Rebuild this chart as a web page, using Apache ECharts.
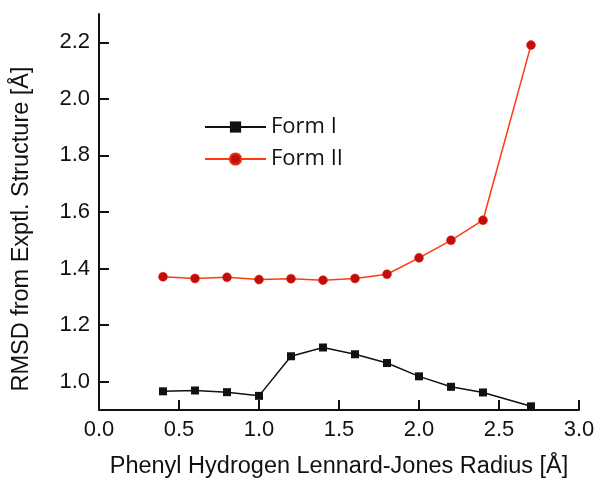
<!DOCTYPE html>
<html>
<head>
<meta charset="utf-8">
<script src="https://cdn.jsdelivr.net/npm/echarts@6/dist/echarts.min.js"></script>
<style>
  html, body { margin: 0; padding: 0; background: #fff; }
  #chart { width: 600px; height: 484px; }
</style>
</head>
<body>
<div id="chart"></div>
<script>
// radius values (Å)
const radius = [0.4, 0.6, 0.8, 1.0, 1.2, 1.4, 1.6, 1.8, 2.0, 2.2, 2.4, 2.7];
// RMSD
const formI  = [0.966, 0.969, 0.963, 0.950, 1.090, 1.121, 1.097, 1.066, 1.019, 0.982, 0.962, 0.913];
const formII = [1.371, 1.365, 1.369, 1.361, 1.364, 1.359, 1.365, 1.380, 1.438, 1.500, 1.571, 2.190];
const yTicks = [1.0, 1.2, 1.4, 1.6, 1.8, 2.0, 2.2];

const font = 'Liberation Sans, Arial, sans-serif';
const chart = echarts.init(document.getElementById('chart'));

const pairs = (ys) => radius.map((x, i) => [x, ys[i]]);

chart.setOption({
  animation: false,
  backgroundColor: '#fff',
  grid: { left: 99, right: 21, top: 14, bottom: 72 },
  legend: {
    left: 204,
    top: 116,
    padding: 0,
    orient: 'vertical',
    itemWidth: 61,
    itemHeight: 14,
    itemGap: 10,
    textStyle: { fontFamily: 'Open Sans, sans-serif', fontSize: 22, color: '#111' },
    data: ['Form I', 'Form II']
  },
  xAxis: {
    type: 'value',
    min: 0,
    max: 3,
    interval: 0.5,
    name: 'Phenyl Hydrogen Lennard-Jones Radius [Å]',
    nameLocation: 'middle',
    nameGap: 45,
    nameTextStyle: { fontFamily: font, fontSize: 23.5, color: '#111' },
    splitLine: { show: false },
    axisLine: { show: true, lineStyle: { color: '#111', width: 2 } },
    axisTick: { show: true, inside: true, length: 10, lineStyle: { color: '#111', width: 2 } },
    axisLabel: {
      fontFamily: font, fontSize: 22, color: '#111', margin: 9,
      formatter: (v) => v.toFixed(1)
    }
  },
  yAxis: {
    type: 'value',
    min: 0.9,
    max: 2.3,
    name: 'RMSD from Exptl. Structure [Å]',
    nameLocation: 'middle',
    nameGap: 65,
    nameTextStyle: { fontFamily: font, fontSize: 23.5, color: '#111', padding: [0, 34, 0, 0] },
    splitLine: { show: false },
    axisLine: { show: true, lineStyle: { color: '#111', width: 2 } },
    axisTick: { show: true, inside: true, length: 10, lineStyle: { color: '#111', width: 2 }, customValues: yTicks },
    axisLabel: {
      fontFamily: font, fontSize: 22, color: '#111', margin: 9,
      customValues: yTicks,
      formatter: (v) => v.toFixed(1)
    }
  },
  series: [
    {
      name: 'Form I',
      type: 'line',
      data: pairs(formI),
      symbol: 'rect',
      symbolSize: 8,
      lineStyle: { color: '#111', width: 1.5 },
      itemStyle: { color: '#111' }
    },
    {
      name: 'Form II',
      type: 'line',
      data: pairs(formII),
      symbol: 'circle',
      symbolSize: 9,
      lineStyle: { color: '#ff3a10', width: 1.5 },
      itemStyle: { color: '#c20d0d', borderColor: '#e8300f', borderWidth: 0.5 }
    }
  ]
});
</script>
</body>
</html>
